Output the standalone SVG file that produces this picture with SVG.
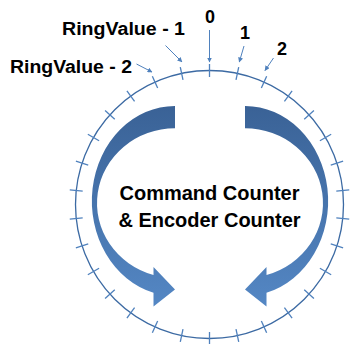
<svg xmlns="http://www.w3.org/2000/svg" width="351" height="344" viewBox="0 0 351 344">
<defs>
<style>
.lbl{font-family:"Liberation Sans",Arial,sans-serif;font-weight:bold;fill:#000;}
.tick{stroke:#4f81bd;stroke-width:1.3;}
.ptr{stroke:#4f81bd;stroke-width:1;fill:none;marker-end:url(#ah);}
.big{fill:url(#g);}
</style>
<linearGradient id="g" x1="0" y1="0" x2="0" y2="1">
<stop offset="0" stop-color="#3a6296"/>
<stop offset="1" stop-color="#5487c4"/>
</linearGradient>
<marker id="ah" viewBox="0 0 10 10" refX="9" refY="5" markerWidth="5" markerHeight="5" markerUnits="userSpaceOnUse" orient="auto">
<path d="M0,0 L10,5 L0,10 Z" fill="#4f81bd"/>
</marker>
<path id="curv" d="M175,106 A83,95 0 0 0 153.5,292.8 L153.5,306.5 L175,289.5 L153.5,267 L153.5,275 A78,74.8 0 0 1 175,128.3 Z"/>
</defs>
<rect width="351" height="344" fill="#fff"/>
<g id="ring">
<circle cx="209.5" cy="204.5" r="134" fill="none" stroke="#3c6aa3" stroke-width="1.3"/>
<g class="tick">
<line x1="209.5" y1="64" x2="209.5" y2="77"/>
<line x1="209.5" y1="64" x2="209.5" y2="77" transform="rotate(12 209.5 204.5)"/>
<line x1="209.5" y1="64" x2="209.5" y2="77" transform="rotate(24 209.5 204.5)"/>
<line x1="209.5" y1="64" x2="209.5" y2="77" transform="rotate(36 209.5 204.5)"/>
<line x1="209.5" y1="64" x2="209.5" y2="77" transform="rotate(48 209.5 204.5)"/>
<line x1="209.5" y1="64" x2="209.5" y2="77" transform="rotate(60 209.5 204.5)"/>
<line x1="209.5" y1="64" x2="209.5" y2="77" transform="rotate(72 209.5 204.5)"/>
<line x1="209.5" y1="64" x2="209.5" y2="77" transform="rotate(84 209.5 204.5)"/>
<line x1="209.5" y1="64" x2="209.5" y2="77" transform="rotate(96 209.5 204.5)"/>
<line x1="209.5" y1="64" x2="209.5" y2="77" transform="rotate(108 209.5 204.5)"/>
<line x1="209.5" y1="64" x2="209.5" y2="77" transform="rotate(120 209.5 204.5)"/>
<line x1="209.5" y1="64" x2="209.5" y2="77" transform="rotate(132 209.5 204.5)"/>
<line x1="209.5" y1="64" x2="209.5" y2="77" transform="rotate(144 209.5 204.5)"/>
<line x1="209.5" y1="64" x2="209.5" y2="77" transform="rotate(156 209.5 204.5)"/>
<line x1="209.5" y1="64" x2="209.5" y2="77" transform="rotate(168 209.5 204.5)"/>
<line x1="209.5" y1="64" x2="209.5" y2="77" transform="rotate(180 209.5 204.5)"/>
<line x1="209.5" y1="64" x2="209.5" y2="77" transform="rotate(192 209.5 204.5)"/>
<line x1="209.5" y1="64" x2="209.5" y2="77" transform="rotate(204 209.5 204.5)"/>
<line x1="209.5" y1="64" x2="209.5" y2="77" transform="rotate(216 209.5 204.5)"/>
<line x1="209.5" y1="64" x2="209.5" y2="77" transform="rotate(228 209.5 204.5)"/>
<line x1="209.5" y1="64" x2="209.5" y2="77" transform="rotate(240 209.5 204.5)"/>
<line x1="209.5" y1="64" x2="209.5" y2="77" transform="rotate(252 209.5 204.5)"/>
<line x1="209.5" y1="64" x2="209.5" y2="77" transform="rotate(264 209.5 204.5)"/>
<line x1="209.5" y1="64" x2="209.5" y2="77" transform="rotate(276 209.5 204.5)"/>
<line x1="209.5" y1="64" x2="209.5" y2="77" transform="rotate(288 209.5 204.5)"/>
<line x1="209.5" y1="64" x2="209.5" y2="77" transform="rotate(300 209.5 204.5)"/>
<line x1="209.5" y1="64" x2="209.5" y2="77" transform="rotate(312 209.5 204.5)"/>
<line x1="209.5" y1="64" x2="209.5" y2="77" transform="rotate(324 209.5 204.5)"/>
<line x1="209.5" y1="64" x2="209.5" y2="77" transform="rotate(336 209.5 204.5)"/>
<line x1="209.5" y1="64" x2="209.5" y2="77" transform="rotate(348 209.5 204.5)"/>
</g>
</g>
<g id="arrow-left">
<use href="#curv" class="big"/>
</g>
<g id="arrow-right">
<use href="#curv" class="big" transform="matrix(-1,0,0,1,420,0)"/>
</g>
<g id="connectors">
<line class="ptr" x1="209.5" y1="30" x2="209.5" y2="62"/>
<line class="ptr" x1="244" y1="46" x2="239.3" y2="62"/>
<line class="ptr" x1="273.5" y1="58" x2="265" y2="70.5"/>
<line class="ptr" x1="165.5" y1="45.5" x2="182" y2="62"/>
<line class="ptr" x1="136.5" y1="64" x2="152" y2="72"/>
</g>
<g id="label-0"><text class="lbl" x="210" y="23" font-size="18" text-anchor="middle">0</text></g>
<g id="label-1"><text class="lbl" x="245" y="39" font-size="18" text-anchor="middle">1</text></g>
<g id="label-2"><text class="lbl" x="282" y="55" font-size="18" text-anchor="middle">2</text></g>
<g id="label-rv1"><text class="lbl" x="62" y="35" font-size="18" textLength="123" lengthAdjust="spacingAndGlyphs">RingValue - 1</text></g>
<g id="label-rv2"><text class="lbl" x="10" y="73" font-size="18" textLength="122" lengthAdjust="spacingAndGlyphs">RingValue - 2</text></g>
<g id="center-text">
<text class="lbl" x="209.5" y="200" font-size="20" text-anchor="middle">Command Counter</text>
<text class="lbl" x="209.5" y="227" font-size="20" text-anchor="middle">&amp; Encoder Counter</text>
</g>
</svg>
